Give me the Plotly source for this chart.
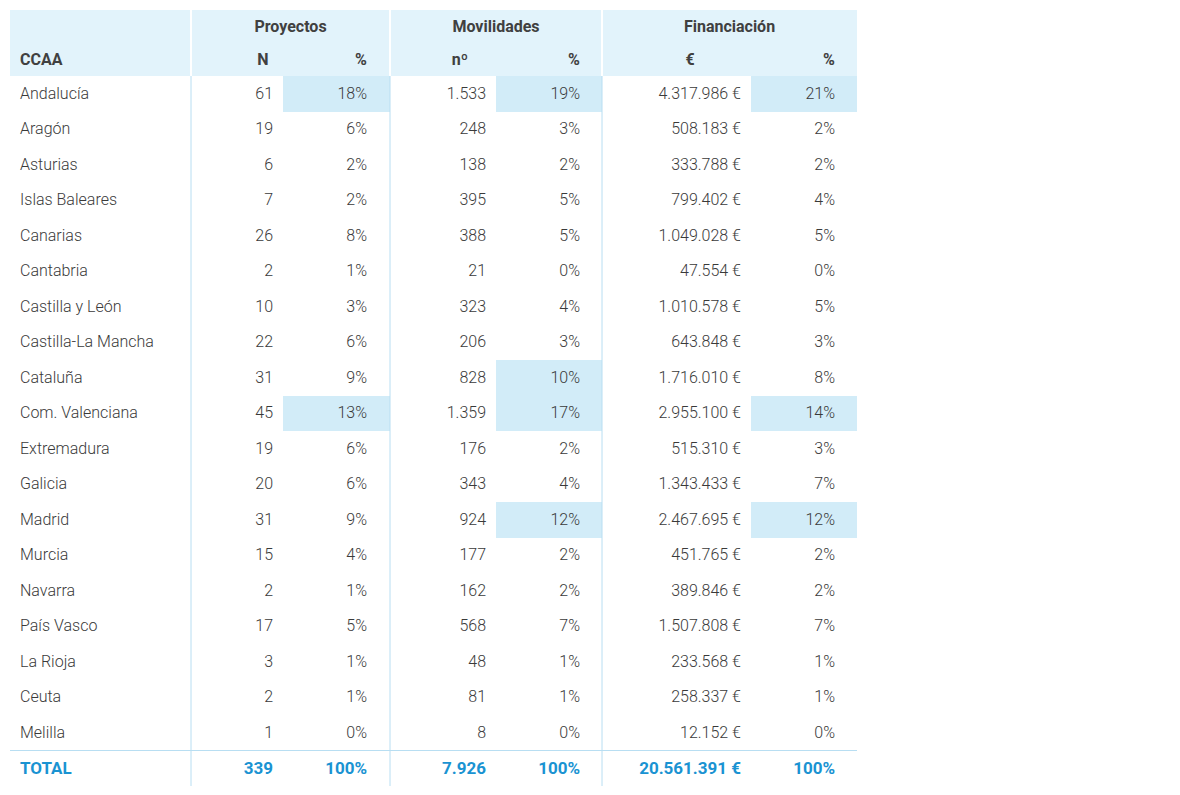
import plotly.graph_objects as go

ccaa = ["Andalucía", "Aragón", "Asturias", "Islas Baleares", "Canarias", "Cantabria",
        "Castilla y León", "Castilla-La Mancha", "Cataluña", "Com. Valenciana", "Extremadura",
        "Galicia", "Madrid", "Murcia", "Navarra", "País Vasco", "La Rioja", "Ceuta", "Melilla"]
proyectos_n = [61, 19, 6, 7, 26, 2, 10, 22, 31, 45, 19, 20, 31, 15, 2, 17, 3, 2, 1]
proyectos_pct = [18, 6, 2, 2, 8, 1, 3, 6, 9, 13, 6, 6, 9, 4, 1, 5, 1, 1, 0]
movilidades_n = [1533, 248, 138, 395, 388, 21, 323, 206, 828, 1359, 176, 343, 924, 177, 162, 568, 48, 81, 8]
movilidades_pct = [19, 3, 2, 5, 5, 0, 4, 3, 10, 17, 2, 4, 12, 2, 2, 7, 1, 1, 0]
financiacion_eur = [4317986, 508183, 333788, 799402, 1049028, 47554, 1010578, 643848, 1716010,
                    2955100, 515310, 1343433, 2467695, 451765, 389846, 1507808, 233568, 258337, 12152]
financiacion_pct = [21, 2, 2, 4, 5, 0, 5, 3, 8, 14, 3, 7, 12, 2, 2, 7, 1, 1, 0]
total = {"proyectos": 339, "movilidades": 7926, "financiacion": 20561391}

group_labels = ["Proyectos", "Movilidades", "Financiación"]
sub_labels = ["N", "%", "nº", "%", "€", "%"]

W, H = 1180, 795
OFF = 8  # page body margin: axis units below are screen pixels
TEXT = "#3a3a3a"
BLUE = "#1a93d2"
HEAD_BG = "#e2f3fb"
HILITE = "#d2ecf8"
SEP = "#b8def2"
FONT = "Roboto, sans-serif"


def miles(v):
    return f"{v:,}".replace(",", ".")


def pct(v):
    return f"{v}%"


n = len(ccaa)
columns = [
    [str(v) for v in proyectos_n],
    [pct(v) for v in proyectos_pct],
    [miles(v) for v in movilidades_n],
    [pct(v) for v in movilidades_pct],
    [miles(v) + " €" for v in financiacion_eur],
    [pct(v) for v in financiacion_pct],
]
totals = [str(total["proyectos"]), "100%", miles(total["movilidades"]), "100%",
          miles(total["financiacion"]) + " €", "100%"]

# layout (screen pixels)
col_edges = [10, 191, 283, 390, 496, 602, 751, 857]
group_edges = [10, 191, 390, 602, 857]
right_anchor = [273, 367, 486, 580, 741, 835]
sub_center = [263, 361, 460, 574, 690, 829]
top, mid, body = 10, 43, 76
row_h = 35.5
nudge = 1.2  # text sits a touch below the geometric middle
row_edges = [top, mid] + [body + row_h * k for k in range(n + 2)]
row_mid = [body + row_h * (k + 0.5) + nudge for k in range(n + 1)]
group_y = (top + mid) / 2 + 1.5
sub_y = (mid + body) / 2 + 1.5

# cell fills: 2 = header, 1 = highlighted share (>= 10%), 0 = plain
pct_cols = {1: proyectos_pct, 3: movilidades_pct, 5: financiacion_pct}
z = [[2] * 7, [2] * 7]
for r in range(n):
    row = [0]
    for c in range(6):
        row.append(1 if c in pct_cols and pct_cols[c][r] >= 10 else 0)
    z.append(row)
z.append([0] * 7)

fig = go.Figure()
fig.add_trace(go.Heatmap(
    x=col_edges, y=row_edges, z=z, zmin=0, zmax=2,
    colorscale=[[0, "white"], [0.25, "white"], [0.25, HILITE], [0.75, HILITE],
                [0.75, HEAD_BG], [1, HEAD_BG]],
    showscale=False, hoverinfo="skip",
))

body_font = dict(family=FONT, size=16, color=TEXT, weight=300)
head_font = dict(family=FONT, size=16, color="#404040", weight="bold")
tot_font = dict(family=FONT, size=17, color=BLUE, weight="bold")

# group headers
fig.add_trace(go.Scatter(
    x=[(group_edges[k] + group_edges[k + 1]) / 2 for k in (1, 2, 3)],
    y=[group_y] * 3, text=group_labels, mode="text",
    textposition="middle center", textfont=head_font, hoverinfo="skip"))
# sub headers
fig.add_trace(go.Scatter(
    x=[20], y=[sub_y], text=["CCAA"], mode="text",
    textposition="middle right", textfont=head_font, hoverinfo="skip"))
fig.add_trace(go.Scatter(
    x=sub_center, y=[sub_y] * 6, text=sub_labels, mode="text",
    textposition="middle center", textfont=head_font, hoverinfo="skip"))

# body
fig.add_trace(go.Scatter(
    x=[20] * n, y=row_mid[:n], text=ccaa, mode="text",
    textposition="middle right", textfont=body_font, hoverinfo="skip"))
for c, vals in enumerate(columns):
    fig.add_trace(go.Scatter(
        x=[right_anchor[c]] * n, y=row_mid[:n], text=vals, mode="text",
        textposition="middle left", textfont=body_font, hoverinfo="skip"))

# total row
fig.add_trace(go.Scatter(
    x=[20], y=[row_mid[n]], text=["TOTAL"], mode="text",
    textposition="middle right", textfont=tot_font, hoverinfo="skip"))
fig.add_trace(go.Scatter(
    x=right_anchor, y=[row_mid[n]] * 6, text=totals, mode="text",
    textposition="middle left", textfont=tot_font, hoverinfo="skip"))

# separators between column groups and the rule above the total
bottom = row_edges[-1]
for xe in group_edges[1:-1]:
    fig.add_shape(type="line", x0=xe, x1=xe, y0=top, y1=body,
                  line=dict(color="white", width=2), layer="above")
    fig.add_shape(type="line", x0=xe, x1=xe, y0=body, y1=bottom,
                  line=dict(color=SEP, width=1), layer="above")
fig.add_shape(type="line", x0=col_edges[0], x1=col_edges[-1],
              y0=row_edges[-2], y1=row_edges[-2],
              line=dict(color=SEP, width=1.2), layer="above")

fig.update_xaxes(range=[OFF, W + OFF], visible=False, fixedrange=True)
fig.update_yaxes(range=[H + OFF, OFF], visible=False, fixedrange=True)
fig.update_layout(width=W, height=H, margin=dict(l=0, r=0, t=0, b=0),
                  paper_bgcolor="white", plot_bgcolor="white",
                  showlegend=False, hovermode=False)

fig.write_html("out.html")
